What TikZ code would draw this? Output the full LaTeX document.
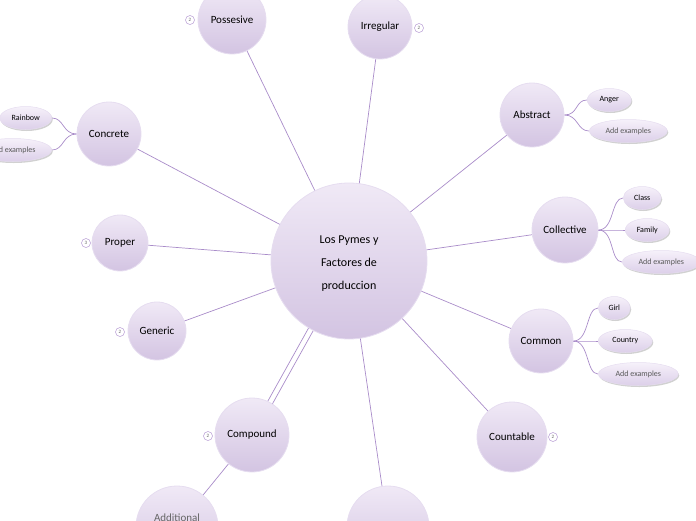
\documentclass[tikz,border=0pt]{standalone}
\usepackage{fontspec}
\setmainfont{Carlito}
\usetikzlibrary{shapes.geometric,shadows,backgrounds}
\definecolor{lnk}{HTML}{A98CC9}
\definecolor{ctop}{HTML}{F0E9F6}
\definecolor{cbot}{HTML}{D3C4E2}
\definecolor{cbrd}{HTML}{E6DDF0}
\definecolor{etop}{HTML}{F6F1FA}
\definecolor{ebot}{HTML}{DCCFE9}
\definecolor{bdg}{HTML}{B59AD3}
\tikzset{
  topic/.style={circle, top color=ctop, bottom color=cbot, draw=cbrd, line width=0.8pt, inner sep=0pt, align=center, font=\fontsize{11}{13}\selectfont, text=black},
  leaf/.style={ellipse, top color=etop, bottom color=ebot, draw=cbrd, line width=0.5pt, inner sep=0pt, minimum height=23pt, font=\fontsize{8}{9}\selectfont, text=black, anchor=west, drop shadow={shadow xshift=1pt, shadow yshift=-1.5pt, fill=black!30, opacity=0.6}},
  addleaf/.style={leaf, text=black!65},
  badge/.style={circle, draw=bdg, line width=0.5pt, minimum size=9pt, inner sep=0pt, font=\fontsize{5}{5}\selectfont, text=black!60},
  link/.style={draw=lnk, line width=0.7pt},
  branch/.style={draw=lnk, line width=0.7pt},
}
\begin{document}
\begin{tikzpicture}[x=1pt,y=-1pt]
\useasboundingbox (0,0) rectangle (696,520);
\clip (0,0) rectangle (696,520);
% main topics
\node[topic, minimum size=156pt] (center) at (349,261) {};
\node[align=center, font=\fontsize{12}{23}\selectfont] (centertxt) at (349,264) {Los Pymes y\\Factores de\\produccion};
\node[topic, minimum size=68pt] (poss) at (232,20) {Possesive};
\node[topic, minimum size=64pt] (irr) at (380,27) {Irregular};
\node[topic, minimum size=64pt] (abs) at (532,115) {Abstract};
\node[topic, minimum size=64pt] (conc) at (109,134) {Concrete};
\node[topic, minimum size=66pt] (coll) at (565,230) {Collective};
\node[topic, minimum size=56pt] (prop) at (120,243) {Proper};
\node[topic, minimum size=58pt] (gen) at (157,331) {Generic};
\node[topic, minimum size=64pt] (comm) at (541,341) {Common};
\node[topic, minimum size=70pt] (count) at (512,437) {Countable};
\node[topic, minimum size=74pt] (comp) at (252,435) {Compound};
\node[topic, minimum size=82pt] (addl) at (177,527) {};
\node[font=\fontsize{11}{13}\selectfont, text=black!60] (addltxt) at (177,518) {Additional};
\node[topic, minimum size=82pt] (bot) at (388,527) {};
% badges
\node[badge] (bposs) at (190,20) {2};
\node[badge] (birr) at (419,28) {2};
\node[badge] (bprop) at (86,243) {3};
\node[badge] (bgen) at (120,332) {2};
\node[badge] (bcount) at (553,437) {2};
\node[badge] (bcomp) at (208,436) {2};
% leaves
\node[leaf, minimum width=44pt] (anger) at (587,100) {Anger};
\node[addleaf, minimum width=78pt] (absadd) at (589,131) {Add examples};
\node[leaf, minimum width=52pt, anchor=east] (rain) at (52,118) {Rainbow};
\node[addleaf, minimum width=78pt, anchor=east] (concadd) at (52,150) {Add examples};
\node[leaf, minimum width=38pt] (class) at (623,198) {Class};
\node[leaf, minimum width=44pt] (family) at (625,230) {Family};
\node[addleaf, minimum width=78pt] (colladd) at (622,262) {Add examples};
\node[leaf, minimum width=32pt] (girl) at (598,308) {Girl};
\node[leaf, minimum width=54pt] (country) at (598,341) {Country};
\node[addleaf, minimum width=80pt] (commadd) at (598,374) {Add examples};
% connectors
\begin{pgfonlayer}{background}
\foreach \t in {poss,irr,abs,conc,coll,prop,gen,comm,count,bot}
  \draw[link] (center.center) -- (\t.center);
\draw[link] ([shift={(-4.4,2.4)}]center.center) -- ([shift={(-4.4,2.4)}]comp.center);
\draw[link] ([shift={(4.4,-2.4)}]center.center) -- ([shift={(4.4,-2.4)}]comp.center);
\draw[link] (comp.center) -- (addl.center);
\foreach \c in {anger,absadd}
  \draw[branch] (abs.east) .. controls +(14,0) and +(-12,0) .. (\c.west);
\foreach \c in {rain,concadd}
  \draw[branch] (conc.west) .. controls +(-14,0) and +(12,0) .. (\c.east);
\foreach \c in {class,family,colladd}
  \draw[branch] (coll.east) .. controls +(16,0) and +(-12,0) .. (\c.west);
\foreach \c in {girl,country,commadd}
  \draw[branch] (comm.east) .. controls +(16,0) and +(-12,0) .. (\c.west);
\end{pgfonlayer}
\end{tikzpicture}
\end{document}
